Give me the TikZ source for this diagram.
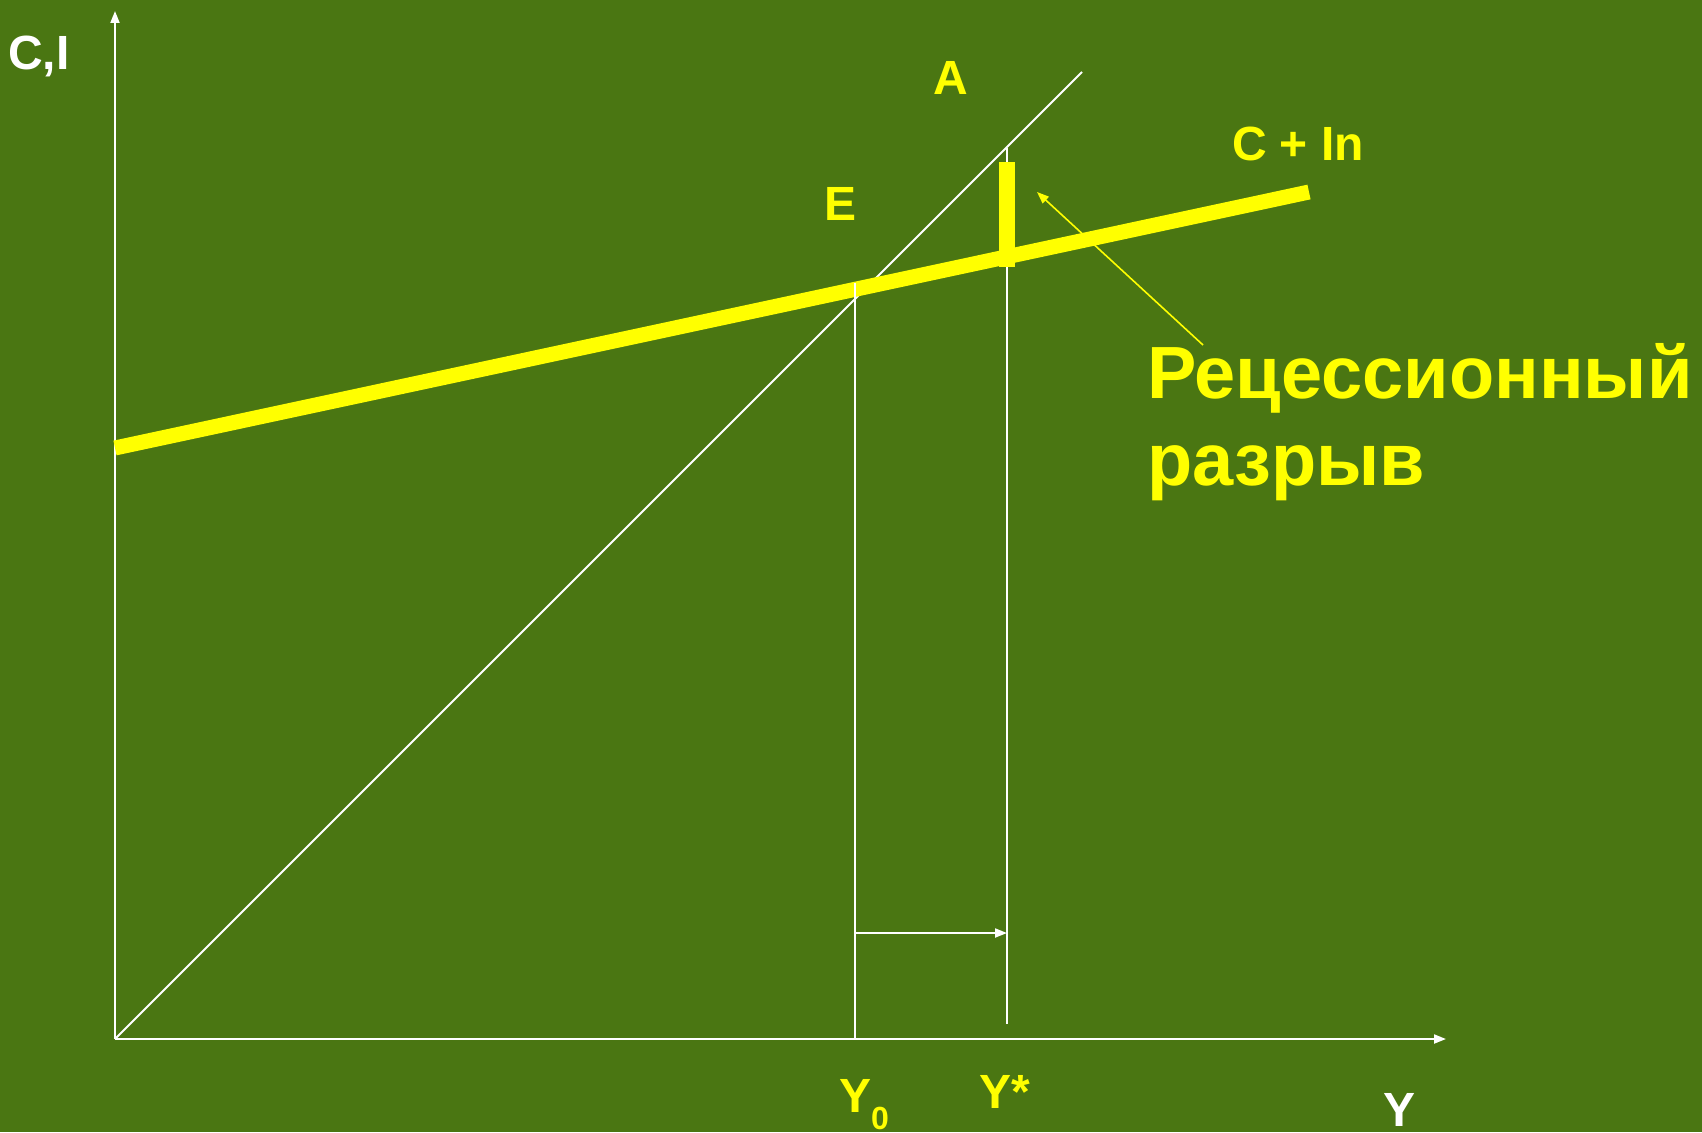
\documentclass[tikz,border=0pt]{standalone}
\usepackage{fontspec}
\setmainfont{Liberation Sans}
\usetikzlibrary{arrows.meta}
\definecolor{bg}{RGB}{74,118,18}
\definecolor{yel}{RGB}{255,255,0}
\begin{document}
\begin{tikzpicture}[x=1pt,y=-1pt,
  lbl/.style={inner sep=0pt, font=\bfseries\fontsize{48}{48}\selectfont, text=yel},
  wlbl/.style={lbl, text=white},
  big/.style={inner sep=0pt, font=\bfseries\fontsize{74}{74}\selectfont, text=yel, anchor=base west},
  ax/.style={draw=white, line width=2pt},
  axtip/.style={-{Triangle[length=12pt,width=9pt]}},
  curve/.style={draw=yel, line width=15pt}
]
\path[fill=bg] (0,0) rectangle (1702,1132);
\useasboundingbox (0,0) rectangle (1702,1132);
% coordinates
\coordinate (O) at (115,1039);
\coordinate (ytop) at (115,11);
\coordinate (xend) at (1446,1039);
\coordinate (D) at (1082,72);
\coordinate (L1) at (115,448);
\coordinate (L2) at (1309,192);
\coordinate (Y0b) at (855,1039);
\coordinate (Y0t) at (855,283);
\coordinate (Ysb) at (1007,1024);
\coordinate (Yst) at (1007,148);
\coordinate (H1) at (855,933);
\coordinate (H2) at (1007,933);
\coordinate (P1) at (1203,345);
\coordinate (P2) at (1037,192);
% diagonal
\draw[ax] (O) -- (D);
% axes
\draw[ax,axtip] (O) -- (ytop);
\draw[ax,axtip] (O) -- (xend);
% C + In line
\draw[curve] (L1) -- (L2);
% verticals
\draw[ax] (Y0b) -- (Y0t);
\draw[ax] (Ysb) -- (Yst);
\draw[ax,axtip] (H1) -- (H2);
% gap bar
\fill[yel] (999,162) rectangle (1015,267);
% pointer arrow
\draw[draw=yel, line width=1.6pt, -{Triangle[length=12pt,width=9pt]}] (P1) -- (P2);
% labels
\node[wlbl, anchor=base west] (CI) at (8,70) {C,I};
\node[lbl, anchor=base] (A) at (951,95) {A};
\node[lbl, anchor=base] (E) at (840,220) {E};
\node[lbl, anchor=base] (CIn) at (1298,160) {C + In};
\node[lbl, anchor=base west] (Y0) at (839,1112) {Y\raisebox{-17pt}{\fontsize{32}{32}\selectfont 0}};
\node[lbl, anchor=base west] (Ys) at (979,1108) {Y*};
\node[wlbl, anchor=base west] (Y) at (1383,1126) {Y};
\node[big] (gap1) at (1147,398) {Рецессионный};
\node[big] (gap2) at (1147,485) {разрыв};
\end{tikzpicture}
\end{document}
